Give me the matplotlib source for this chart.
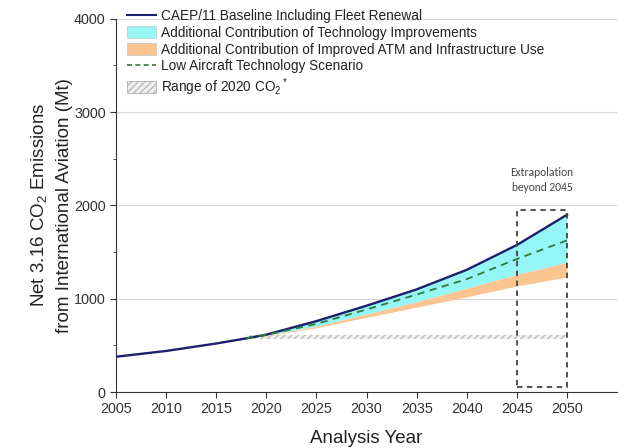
import matplotlib
matplotlib.use('Agg')
import matplotlib.pyplot as plt
from matplotlib.patches import Patch, Rectangle
from matplotlib.lines import Line2D
from matplotlib.ticker import MultipleLocator

plt.rcParams['font.family'] = ['Liberation Sans', 'DejaVu Sans']
plt.rcParams['mathtext.fontset'] = 'custom'
plt.rcParams['mathtext.rm'] = 'Liberation Sans'
plt.rcParams['mathtext.it'] = 'Liberation Sans'
plt.rcParams['hatch.color'] = '#a8a8a8'
plt.rcParams['hatch.linewidth'] = 0.8

# baseline (Mt)
years = [2005, 2010, 2015, 2018, 2020, 2025, 2030, 2035, 2040, 2045, 2050]
baseline = [378, 440, 520, 575, 615, 760, 925, 1100, 1310, 1576, 1900]

# measures start to bite after 2018
years_m = [2018, 2020, 2025, 2030, 2035, 2040, 2045, 2050]
tech_bottom = [575, 605, 705, 835, 968, 1112, 1260, 1390]
atm_bottom = [575, 600, 690, 800, 910, 1020, 1137, 1232]
low_tech = [575, 612, 730, 885, 1045, 1210, 1426, 1625]

range_2020 = [2018, 2050]
range_lo = 568
range_hi = 612

labels = [
    'CAEP/11 Baseline Including Fleet Renewal',
    'Additional Contribution of Technology Improvements',
    'Additional Contribution of Improved ATM and Infrastructure Use',
    'Low Aircraft Technology Scenario',
    'Range of 2020 CO$_2$$^*$',
]

navy = '#1c1f6b'
cyan = '#96f5f5'
orange = '#fbc592'
green = '#2f7a3a'


def main():
    fig = plt.figure(figsize=(6.24, 4.48), dpi=100)
    ax = fig.add_axes([0.186, 0.125, 0.803, 0.833])

    base_m = [baseline[years.index(y)] for y in years_m]

    ax.fill_between(range_2020, range_lo, range_hi, facecolor='#efefef',
                    edgecolor='#b0b0b0', hatch='/////', linewidth=0, zorder=1)
    ax.fill_between(years_m, tech_bottom, base_m, color=cyan, linewidth=0, zorder=2)
    ax.fill_between(years_m, atm_bottom, tech_bottom, color=orange, linewidth=0, zorder=2)
    ax.plot(years_m, low_tech, color=green, lw=1.3, dashes=(4, 3), zorder=4)
    ax.plot(years, baseline, color=navy, lw=1.7, zorder=3)

    # extrapolation box
    ax.add_patch(Rectangle((2045, 50), 5, 1900, fill=False, ls=(0, (3, 2.5)),
                           lw=1.3, edgecolor='#444444', zorder=5))
    ax.text(2047.5, 2130, 'Extrapolation\nbeyond 2045', ha='center', va='bottom',
            fontsize=8.3, color='#444444', linespacing=1.45,
            family=['Carlito', 'Lato', 'DejaVu Sans'])

    ax.set_xlim(2005, 2055)
    ax.set_ylim(0, 4000)
    ax.set_xticks(range(2005, 2051, 5))
    ax.yaxis.set_major_locator(MultipleLocator(1000))
    ax.yaxis.set_minor_locator(MultipleLocator(500))
    ax.grid(axis='y', color='#d8d8d8', lw=0.8)
    ax.set_axisbelow(True)
    for s in ['top', 'right']:
        ax.spines[s].set_visible(False)
    for s in ['left', 'bottom']:
        ax.spines[s].set_color('#333333')
    ax.tick_params(labelsize=10.4, colors='#333333', length=4.5, pad=3)
    ax.tick_params(which='minor', length=2.5, colors='#333333')

    ax.set_xlabel('Analysis Year', fontsize=13.5, color='#222222', labelpad=10)
    ax.set_ylabel('Net 3.16 CO$_2$ Emissions\nfrom International Aviation (Mt)',
                  fontsize=13.5, color='#222222', labelpad=1, linespacing=1.5)

    handles = [
        Line2D([], [], color=navy, lw=1.5),
        Patch(facecolor=cyan, edgecolor='#c8c8c8', lw=0.6),
        Patch(facecolor=orange, edgecolor='#c8c8c8', lw=0.6),
        Line2D([], [], color=green, lw=1.2, dashes=(3, 2)),
        Patch(facecolor='#efefef', edgecolor='#b0b0b0', hatch='/////', lw=0.6),
    ]
    ax.legend(handles, labels, loc='upper left', bbox_to_anchor=(0.01, 1.04),
              frameon=False, fontsize=9.8, handlelength=2.2, handleheight=1.0,
              labelspacing=0.2, handletextpad=0.35, borderaxespad=0,
              labelcolor='#222222')

    fig.savefig('out.png', dpi=100)


if __name__ == '__main__':
    main()
